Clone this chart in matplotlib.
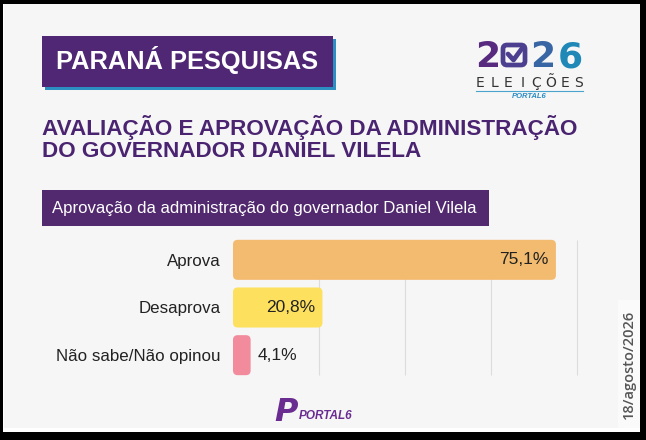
import matplotlib
matplotlib.use("Agg")
import matplotlib.pyplot as plt
from matplotlib.patches import Rectangle, FancyBboxPatch

# data
categories = ["Aprova", "Desaprova", "Não sabe/Não opinou"]
values = [75.1, 20.8, 4.1]
value_labels = ["75,1%", "20,8%", "4,1%"]
bar_colors = ["#f2bb6f", "#fde15e", "#f28c9d"]
grid_ticks = [20, 40, 60, 80]

header = "PARANÁ PESQUISAS"
title_lines = ["AVALIAÇÃO E APROVAÇÃO DA ADMINISTRAÇÃO",
               "DO GOVERNADOR DANIEL VILELA"]
subtitle = "Aprovação da administração do governador Daniel Vilela"
date_text = "18/agosto/2026"

PURPLE = "#4f2775"
W, H = 646, 440

plt.rcParams['font.family'] = ['Liberation Sans', 'DejaVu Sans']

fig = plt.figure(figsize=(W / 100, H / 100), dpi=100)
fig.patch.set_facecolor("black")

# full-figure canvas in pixel coordinates for the decorations
cv = fig.add_axes([0, 0, 1, 1])
cv.set_xlim(0, W)
cv.set_ylim(H, 0)
cv.axis("off")
cv.set_zorder(0)

cv.add_patch(Rectangle((3, 4), 637, 428, color="white", lw=0))
cv.add_patch(Rectangle((4, 4), 636, 424, color="#f6f6f6", lw=0))
cv.add_patch(Rectangle((618, 300), 22, 128, color="#fafafa", lw=0))

# header box with blue shadow
cv.add_patch(Rectangle((45, 39), 291, 51, color="#2b8fc2", lw=0))
cv.add_patch(Rectangle((42, 36), 291, 51, color=PURPLE, lw=0))
cv.text(187.5, 69, header, color="white", fontsize=18.3, fontweight="bold",
        ha="center", va="baseline")

# title
cv.text(42, 135, title_lines[0], color="#4a2470", fontsize=16.2,
        fontweight="bold", ha="left", va="baseline")
cv.text(42, 157, title_lines[1], color="#4a2470", fontsize=16.2,
        fontweight="bold", ha="left", va="baseline")

# subtitle box
cv.add_patch(Rectangle((42, 190), 447, 36, color="#52296f", lw=0))
cv.text(52, 213, subtitle, color="white", fontsize=12.1,
        ha="left", va="baseline")

# 2026 logo
logo_cols = ["#57297f", "#4c3f8f", "#3866a4", "#1f88b6"]
cv.text(487.5, 67, "2", color=logo_cols[0], fontsize=26, fontweight="bold",
        family="DejaVu Sans", ha="center", va="baseline")
cv.add_patch(FancyBboxPatch((503, 45), 22, 20,
                            boxstyle="round,pad=0,rounding_size=4",
                            fill=False, ec=logo_cols[1], lw=3.4))
cv.plot([508, 513.5, 523], [54, 60, 47], color=logo_cols[1], lw=3.4,
        solid_capstyle="round", solid_joinstyle="round")
cv.text(542.5, 67, "2", color=logo_cols[2], fontsize=26, fontweight="bold",
        family="DejaVu Sans", ha="center", va="baseline")
cv.text(570, 67, "6", color=logo_cols[3], fontsize=26, fontweight="bold",
        family="DejaVu Sans", ha="center", va="baseline")
for i, ch in enumerate("ELEIÇÕES"):
    cv.text(480 + i * 14.1, 87, ch, color="#333333", fontsize=10,
            family="DejaVu Sans", ha="center", va="baseline")
cv.plot([476, 583], [91, 91], color="#4aa3cc", lw=0.8)
cv.text(529, 96.5, "PORTAL6", color="#2a8cc4", fontsize=5.5,
        fontweight="bold", style="italic", ha="center", va="center")

# bottom portal6 logo
cv.text(298, 421, "P", color="#6a2c91", fontsize=23, fontweight="bold",
        style="italic", family="DejaVu Sans", ha="right", va="baseline")
cv.text(299, 419, "PORTAL6", color="#6a2c91", fontsize=8.5,
        fontweight="bold", style="italic", ha="left", va="baseline")

# date
cv.text(629, 364, date_text, color="#555555", fontsize=10.5,
        family="Open Sans", fontweight="semibold", rotation=90,
        ha="center", va="center")

# bar chart
ax_l, ax_r, ax_t, ax_b = 233, 577, 236, 379
ax = fig.add_axes([ax_l / W, 1 - ax_b / H, (ax_r - ax_l) / W, (ax_b - ax_t) / H])
ax.set_zorder(1)
ax.set_facecolor("none")
ax.set_xlim(0, 80)
ax.set_ylim(len(categories) - 0.5, -0.5)
for s in ax.spines.values():
    s.set_visible(False)
ax.set_xticks([])
ax.set_yticks(range(len(categories)))
ax.set_yticklabels(categories, fontsize=12.2, color="#222222")
ax.tick_params(axis="y", length=0, pad=9)

ax.vlines(grid_ticks, -0.42, len(categories) - 0.58, color="#dcdcdc",
          lw=0.8, zorder=0, clip_on=False)

bars = ax.barh(range(len(categories)), values, height=0.84, color=bar_colors,
               zorder=2)
px_x = (ax_r - ax_l) / 80
px_y = (ax_b - ax_t) / len(categories)
for b in bars:
    x0, y0, w, h = b.get_x(), b.get_y(), b.get_width(), b.get_height()
    fc = b.get_facecolor()
    b.remove()
    ax.add_patch(FancyBboxPatch((x0, y0), w, h,
                                boxstyle="round,pad=0,rounding_size=1.1",
                                mutation_aspect=px_x / px_y,
                                fc=fc, ec="none", zorder=2))

for i, (v, lab) in enumerate(zip(values, value_labels)):
    if v > 10:
        ax.annotate(lab, (v, i), xytext=(-5, 0), textcoords="offset points",
                    ha="right", va="center", fontsize=12.5, color="#222222",
                    zorder=3)
    else:
        ax.annotate(lab, (v, i), xytext=(5, 0), textcoords="offset points",
                    ha="left", va="center", fontsize=12.5, color="#222222",
                    zorder=3)

fig.savefig("out.png", dpi=100, facecolor=fig.get_facecolor())
